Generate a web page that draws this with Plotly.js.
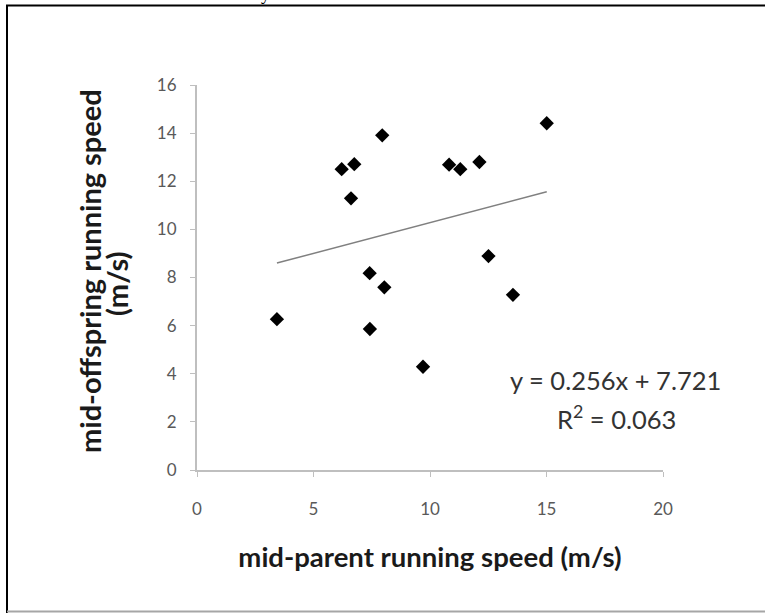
<!DOCTYPE html>
<html>
<head>
<meta charset="utf-8">
<script src="https://cdn.plot.ly/plotly-3.0.1.min.js"></script>
<style>
html, body { margin: 0; padding: 0; background: #ffffff; }
#chart { width: 765px; height: 613px; }
</style>
</head>
<body>
<div id="chart"></div>
<script>
// ---- data ----
const parentSpeed    = [3.43, 6.21, 6.75, 6.61, 7.95, 7.41, 8.04, 7.42, 9.70, 10.82, 11.30, 12.12, 12.51, 13.56, 15.01];
const offspringSpeed = [6.27, 12.50, 12.71, 11.29, 13.91, 8.18, 7.59, 5.86, 4.29, 12.69, 12.50, 12.80, 8.89, 7.28, 14.41];
const trendSlope = 0.256;
const trendIntercept = 7.721;
const trendR2 = 0.063;
const xTickVals = [0, 5, 10, 15, 20];
const yTickVals = [0, 2, 4, 6, 8, 10, 12, 14, 16];
const xTitleText = "mid-parent running speed (m/s)";
const yTitleLine1 = "mid-offspring running speed";
const yTitleLine2 = "(m/s)";
const eqText = "y = 0.256x + 7.721";
const r2Text = "R<sup>2</sup> = 0.063";

// ---- geometry ----
const W = 765, H = 613;
const M = { l: 197, r: 102, t: 85, b: 143 };
const pw = W - M.l - M.r, ph = H - M.t - M.b;
const px = v => (v - M.l) / pw;          // pixel x -> paper x
const py = v => 1 - (v - M.t) / ph;      // pixel y -> paper y

const xMin = Math.min(...parentSpeed), xMax = Math.max(...parentSpeed);
const trendX = [xMin, xMax];
const trendY = trendX.map(x => trendSlope * x + trendIntercept);

const axisGrey = "#bfbfbf";
const fam = "Lato, 'Open Sans', sans-serif";
const tickFont = { family: fam, size: 17, color: "#595959" };
const titleFont = { family: fam, size: 27.5, color: "#1a1a1a", weight: "bold" };
const yTitleFont = { family: fam, size: 29, color: "#1a1a1a", weight: "bold" };

const traces = [
  {
    x: parentSpeed, y: offspringSpeed, type: "scatter", mode: "markers",
    marker: { symbol: "diamond", size: 11, color: "#000000", line: { width: 0 } },
    hoverinfo: "skip", showlegend: false
  },
  {
    x: trendX, y: trendY, type: "scatter", mode: "lines",
    line: { color: "#808080", width: 1.5 },
    hoverinfo: "skip", showlegend: false
  }
];

const layout = {
  width: W, height: H,
  margin: M,
  paper_bgcolor: "#ffffff", plot_bgcolor: "#ffffff",
  showlegend: false,
  xaxis: {
    range: [0, 20], tickvals: xTickVals, ticktext: xTickVals.map(String),
    showgrid: false, zeroline: false,
    showline: true, linecolor: axisGrey, linewidth: 2,
    ticks: "outside", ticklen: 5, tickcolor: axisGrey, tickwidth: 1,
    tickfont: tickFont, ticklabelstandoff: 18,
    title: { text: xTitleText, font: titleFont, standoff: 29 },
    fixedrange: true
  },
  yaxis: {
    range: [0, 16], tickvals: yTickVals, ticktext: yTickVals.map(String),
    showgrid: false, zeroline: false,
    showline: true, linecolor: axisGrey, linewidth: 2,
    ticks: "outside", ticklen: 5, tickcolor: axisGrey, tickwidth: 1,
    tickfont: tickFont, ticklabelstandoff: 10,
    fixedrange: true
  },
  annotations: [
    { x: px(89), y: py(271), xref: "paper", yref: "paper", text: yTitleLine1, showarrow: false,
      textangle: -90, xanchor: "center", yanchor: "middle", font: yTitleFont },
    { x: px(116), y: py(284), xref: "paper", yref: "paper", text: yTitleLine2, showarrow: false,
      textangle: -90, xanchor: "center", yanchor: "middle", font: yTitleFont },
    { x: px(615), y: py(380), xref: "paper", yref: "paper", text: eqText, showarrow: false,
      xanchor: "center", yanchor: "middle",
      font: { family: fam, size: 25.5, color: "#333333" } },
    { x: px(616), y: py(417), xref: "paper", yref: "paper", text: r2Text, showarrow: false,
      xanchor: "center", yanchor: "middle",
      font: { family: fam, size: 25.5, color: "#333333" } },
    { x: px(265), y: py(-6), xref: "paper", yref: "paper", text: "y", showarrow: false,
      xanchor: "center", yanchor: "middle",
      font: { family: "'Liberation Serif', serif", size: 18, color: "#000000" } }
  ],
  shapes: [
    { type: "line", xref: "paper", yref: "paper", x0: px(6), x1: px(766), y0: py(5.5), y1: py(5.5),
      line: { color: "#000000", width: 2 } },
    { type: "line", xref: "paper", yref: "paper", x0: px(7), x1: px(7), y0: py(5), y1: py(614),
      line: { color: "#000000", width: 2 } },
    { type: "line", xref: "paper", yref: "paper", x0: px(7), x1: px(766), y0: py(611.5), y1: py(611.5),
      line: { color: "#a6a6a6", width: 2 } }
  ]
};

Plotly.newPlot("chart", traces, layout, { displayModeBar: false, staticPlot: true });
</script>
</body>
</html>
